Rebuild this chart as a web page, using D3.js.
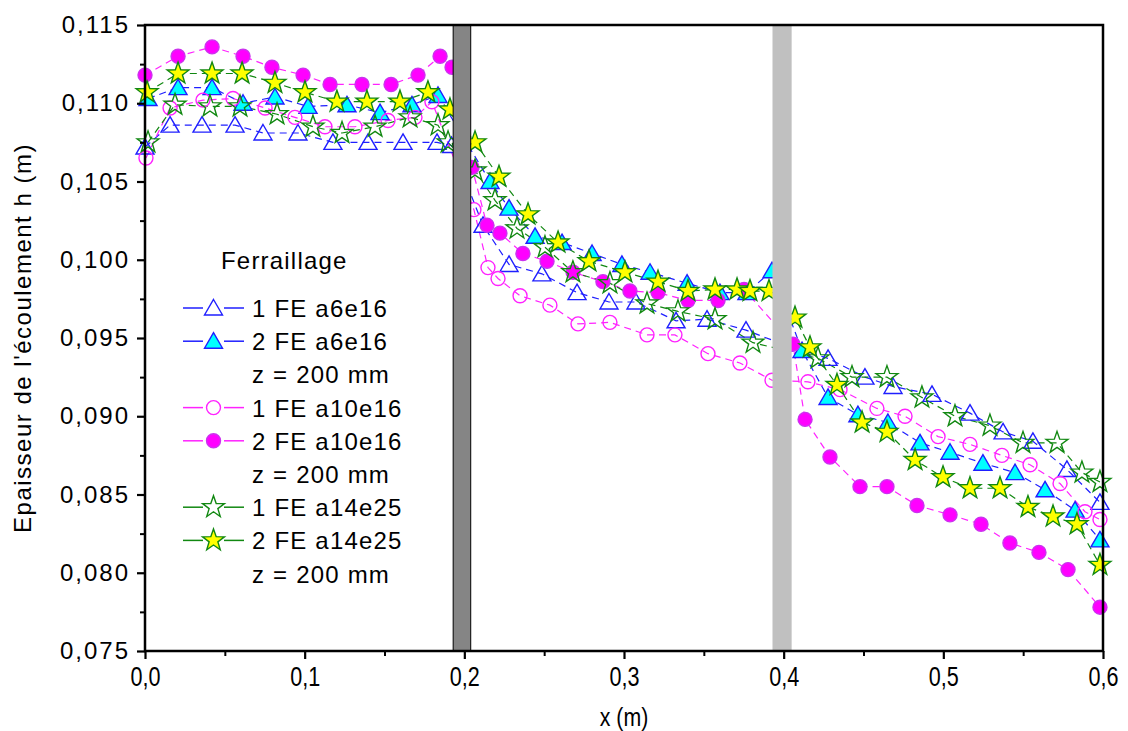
<!DOCTYPE html>
<html><head><meta charset="utf-8">
<script src="https://cdn.jsdelivr.net/npm/d3@7/dist/d3.min.js"></script>
<style>body{margin:0;background:#fff}svg{display:block}</style>
</head><body>
<script>
// ---- data ----
const xTicks = [0, 0.1, 0.2, 0.3, 0.4, 0.5, 0.6];
const xTickLabels = ["0,0","0,1","0,2","0,3","0,4","0,5","0,6"];
const yTicks = [0.075,0.080,0.085,0.090,0.095,0.100,0.105,0.110,0.115];
const yTickLabels = ["0,075","0,080","0,085","0,090","0,095","0,100","0,105","0,110","0,115"];
const walls = [[0.193,0.204],[0.393,0.405]];

const s1x = [0,0.0157,0.0357,0.0564,0.0739,0.0958,0.1177,0.1397,0.1616,0.1829,0.192,0.2117,0.228,0.2486,0.2706,0.2906,0.3075,0.3326,0.352,0.3764,0.3996,0.4278,0.4509,0.4685,0.4929,0.5167,0.5374,0.5561,0.5774,0.5981];
const s1y = [0.1072,0.1086,0.1086,0.1086,0.1081,0.1081,0.1075,0.1075,0.1075,0.1075,0.1073,0.1022,0.0997,0.0991,0.0979,0.0973,0.0973,0.0961,0.0962,0.0955,0.0946,0.0937,0.0925,0.0919,0.0914,0.0902,0.0890,0.0884,0.0866,0.0845];

const s2x = [0.0019,0.0207,0.042,0.0614,0.0814,0.1021,0.1265,0.1472,0.1672,0.1835,0.2161,0.228,0.2443,0.2612,0.28,0.2987,0.3163,0.3395,0.3601,0.377,0.3927,0.4115,0.4278,0.4465,0.4653,0.4854,0.5042,0.5248,0.5449,0.5637,0.5825,0.5981];
const s2y = [0.1103,0.1110,0.1110,0.1100,0.1104,0.1098,0.1099,0.1094,0.1099,0.1105,0.1050,0.1033,0.1015,0.1011,0.1004,0.0997,0.0992,0.0985,0.0979,0.0979,0.0993,0.0942,0.0912,0.0901,0.0896,0.0883,0.0877,0.0870,0.0864,0.0853,0.0840,0.0821];

const s3x = [0.0006,0.0157,0.0363,0.0551,0.0752,0.0939,0.1127,0.1315,0.1522,0.1691,0.1797,0.206,0.2148,0.2211,0.2349,0.2536,0.2712,0.2912,0.3144,0.3319,0.3526,0.3726,0.3927,0.4152,0.4353,0.4584,0.476,0.4967,0.5167,0.5367,0.5543,0.5731,0.5887,0.5981];
const s3y = [0.1065,0.1097,0.1102,0.1103,0.1097,0.1091,0.1085,0.1085,0.1089,0.1091,0.1101,0.1032,0.0995,0.0988,0.0977,0.0971,0.0959,0.0960,0.0952,0.0952,0.0940,0.0934,0.0923,0.0922,0.0917,0.0905,0.0900,0.0887,0.0882,0.0875,0.0869,0.0857,0.0839,0.0834];

const s4x = [0,0.0207,0.042,0.0614,0.0795,0.099,0.1159,0.1359,0.1541,0.171,0.1848,0.1923,0.2048,0.2142,0.2223,0.2367,0.2518,0.2681,0.2868,0.3037,0.3213,0.3401,0.3589,0.3752,0.4058,0.4134,0.429,0.4478,0.4647,0.4835,0.5042,0.5236,0.5417,0.5599,0.5781,0.5981];
const s4y = [0.1118,0.1130,0.1136,0.1130,0.1123,0.1118,0.1112,0.1112,0.1112,0.1118,0.1130,0.1123,0.1059,0.1022,0.1017,0.1004,0.0999,0.0992,0.0986,0.0980,0.0979,0.0974,0.0974,0.0981,0.0946,0.0898,0.0874,0.0855,0.0855,0.0843,0.0837,0.0831,0.0819,0.0813,0.0802,0.0778];

const s5x = [0.0019,0.0188,0.0407,0.0595,0.0827,0.1052,0.1234,0.1441,0.166,0.1835,0.1898,0.2067,0.2192,0.233,0.2505,0.268,0.2912,0.3144,0.3338,0.357,0.3808,0.4215,0.4428,0.4647,0.4866,0.5073,0.5292,0.5499,0.5712,0.5868,0.5981];
const s5y = [0.1075,0.1099,0.1098,0.1098,0.1093,0.1085,0.1081,0.1085,0.1091,0.1086,0.1075,0.1057,0.1038,0.1020,0.1008,0.0992,0.0985,0.0972,0.0967,0.0962,0.0947,0.0937,0.0925,0.0925,0.0912,0.0900,0.0894,0.0883,0.0883,0.0864,0.0858];

const s6x = [0.0013,0.0207,0.042,0.0608,0.0814,0.1002,0.1202,0.139,0.1597,0.1772,0.191,0.2067,0.2217,0.2399,0.2587,0.2781,0.3006,0.3213,0.3401,0.357,0.3708,0.3789,0.3908,0.4071,0.4165,0.4334,0.4491,0.4647,0.4823,0.4998,0.5167,0.5355,0.553,0.5687,0.5837,0.5981];
const s6y = [0.1107,0.1119,0.1119,0.1119,0.1113,0.1107,0.1101,0.1101,0.1101,0.1107,0.1096,0.1075,0.1053,0.1029,0.1011,0.0999,0.0992,0.0986,0.0980,0.0981,0.0981,0.0980,0.0980,0.0963,0.0944,0.0920,0.0896,0.0890,0.0872,0.0861,0.0854,0.0854,0.0842,0.0836,0.0831,0.0805];

const seriesNames = ["1 FE a6e16","2 FE a6e16","1 FE a10e16","2 FE a10e16","1 FE a14e25","2 FE a14e25"];
const legendTitle = "Ferraillage";
const noteText = "z = 200 mm";

// ---- layout ----
const W = 1128, H = 731;
const L = 145, R = 1103, T = 25, B = 651;
const svg = d3.select("body").append("svg").attr("width", W).attr("height", H);
const x = d3.scaleLinear().domain([0, 0.6]).range([L, R]);
const y = d3.scaleLinear().domain([0.075, 0.115]).range([B, T]);

const BLUE = "#1f1fff", MAG = "#ff22ff", GREEN = "#118811";
const styles = [
  {line: BLUE, shape: "tri", fill: "none", stroke: BLUE},
  {line: BLUE, shape: "tri", fill: "#00ffff", stroke: BLUE},
  {line: MAG, shape: "circ", fill: "none", stroke: MAG},
  {line: MAG, shape: "circ", fill: "#ff00ff", stroke: "#cc33ee"},
  {line: GREEN, shape: "star", fill: "none", stroke: GREEN},
  {line: GREEN, shape: "star", fill: "#ffff00", stroke: GREEN}
];
const xs = [s1x, s2x, s3x, s4x, s5x, s6x];
const ys = [s1y, s2y, s3y, s4y, s5y, s6y];

function starPath(ro, ri) {
  let p = [];
  for (let i = 0; i < 10; i++) {
    const r = i % 2 ? ri : ro;
    const a = -Math.PI / 2 + i * Math.PI / 5;
    p.push([r * Math.cos(a), r * Math.sin(a)]);
  }
  return "M" + p.map(d => d[0].toFixed(2) + "," + d[1].toFixed(2)).join("L") + "Z";
}
function markerPath(shape) {
  if (shape === "tri") return "M0,-8.5L9,7L-9,7Z";
  if (shape === "circ") return d3.symbol(d3.symbolCircle, Math.PI * 7 * 7)();
  return starPath(11.5, 4.6);
}

const plot = svg.append("g");
const line = d3.line().x(d => x(d[0])).y(d => y(d[1]));
xs.forEach((sx, i) => {
  const pts = sx.map((v, j) => [v, ys[i][j]]);
  const st = styles[i];
  plot.append("path").attr("d", line(pts)).attr("fill", "none")
    .attr("stroke", st.line).attr("stroke-width", 1.2).attr("stroke-dasharray", "7,5");
});
xs.forEach((sx, i) => {
  const st = styles[i];
  const pts = sx.map((v, j) => [v, ys[i][j]]);
  plot.selectAll(null).data(pts).enter().append("path")
    .attr("d", markerPath(st.shape))
    .attr("transform", d => `translate(${x(d[0])},${y(d[1])})`)
    .attr("fill", st.fill).attr("stroke", st.stroke).attr("stroke-width", 1.4);
});

// walls
svg.append("rect").attr("x", x(walls[0][0])).attr("y", T).attr("width", x(walls[0][1]) - x(walls[0][0])).attr("height", B - T)
  .attr("fill", "#858585").attr("stroke", "#000").attr("stroke-width", 1);
svg.append("rect").attr("x", x(walls[1][0])).attr("y", T).attr("width", x(walls[1][1]) - x(walls[1][0])).attr("height", B - T)
  .attr("fill", "#c0c0c0");

// frame
svg.append("rect").attr("x", L).attr("y", T).attr("width", R - L).attr("height", B - T)
  .attr("fill", "none").attr("stroke", "#000").attr("stroke-width", 2.5);

// axes
const xAxis = d3.axisBottom(x).tickValues(xTicks).tickFormat((d, i) => xTickLabels[i]).tickSize(8).tickSizeOuter(0);
const gx = svg.append("g").attr("transform", `translate(0,${B})`).call(xAxis);
gx.select(".domain").remove();
gx.selectAll(".tick line").attr("stroke-width", 2.2);
gx.selectAll(".tick text").attr("font-family", "'Liberation Sans',Arial,sans-serif")
  .attr("font-size", 27).attr("dy", "0.9em").attr("fill", "#000").attr("transform", "scale(0.8,1)");
const xMinor = d3.axisBottom(x).tickValues([0.05,0.15,0.25,0.35,0.45,0.55]).tickFormat("").tickSize(5).tickSizeOuter(0);
const gxm = svg.append("g").attr("transform", `translate(0,${B})`).call(xMinor);
gxm.select(".domain").remove();
gxm.selectAll(".tick line").attr("stroke-width", 2);

const yAxis = d3.axisLeft(y).tickValues(yTicks).tickFormat((d, i) => yTickLabels[i]).tickSize(8).tickSizeOuter(0);
const gy = svg.append("g").attr("transform", `translate(${L},0)`).call(yAxis);
gy.select(".domain").remove();
gy.selectAll(".tick line").attr("stroke-width", 2.2);
gy.selectAll(".tick text").attr("font-family", "'Liberation Sans',Arial,sans-serif")
  .attr("font-size", 24).attr("letter-spacing", "2px").attr("fill", "#000").attr("x", -15);
const yMinorVals = d3.range(0.0775, 0.115, 0.005);
const yMinor = d3.axisLeft(y).tickValues(yMinorVals).tickFormat("").tickSize(5).tickSizeOuter(0);
const gym = svg.append("g").attr("transform", `translate(${L},0)`).call(yMinor);
gym.select(".domain").remove();
gym.selectAll(".tick line").attr("stroke-width", 2);

// axis titles
svg.append("text").attr("transform", `translate(${(L + R) / 2},726) scale(0.82,1)`).attr("text-anchor", "middle")
  .attr("font-family", "'Liberation Sans',Arial,sans-serif").attr("font-size", 26).text("x (m)");
svg.append("text").attr("transform", `translate(31,${(T + B) / 2}) rotate(-90)`).attr("text-anchor", "middle")
  .attr("font-family", "'Liberation Sans',Arial,sans-serif").attr("font-size", 24).attr("letter-spacing", "1.5px")
  .text("Epaisseur de l'écoulement h (m)");

// legend
const lg = svg.append("g").attr("font-family", "'Liberation Sans',Arial,sans-serif").attr("font-size", 24).attr("letter-spacing", "1.2px");
lg.append("text").attr("x", 221).attr("y", 269).text(legendTitle);
const rows = [
  {t: seriesNames[0], s: 0}, {t: seriesNames[1], s: 1}, {t: noteText},
  {t: seriesNames[2], s: 2}, {t: seriesNames[3], s: 3}, {t: noteText},
  {t: seriesNames[4], s: 4}, {t: seriesNames[5], s: 5}, {t: noteText}
];
rows.forEach((r, i) => {
  const cy = 308 + i * 33.2;
  lg.append("text").attr("x", 252).attr("y", cy + 9).text(r.t);
  if (r.s !== undefined) {
    const st = styles[r.s];
    lg.append("line").attr("x1", 183).attr("x2", 203).attr("y1", cy).attr("y2", cy).attr("stroke", st.line).attr("stroke-width", 1.5);
    lg.append("line").attr("x1", 224).attr("x2", 244).attr("y1", cy).attr("y2", cy).attr("stroke", st.line).attr("stroke-width", 1.5);
    lg.append("path").attr("d", markerPath(st.shape)).attr("transform", `translate(213.5,${cy})`)
      .attr("fill", st.fill).attr("stroke", st.stroke).attr("stroke-width", 1.4);
  }
});
</script>
</body></html>
